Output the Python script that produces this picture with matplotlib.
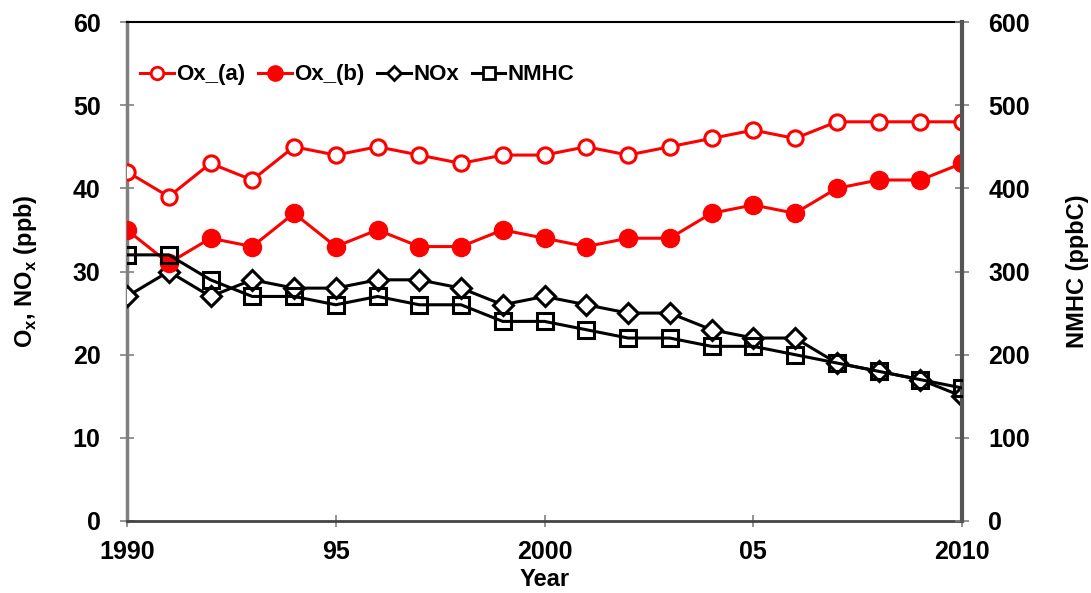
import numpy as np
import matplotlib.pyplot as plt
from matplotlib.lines import Line2D

plt.rcParams['font.family'] = ['Liberation Sans', 'DejaVu Sans']
plt.rcParams['font.weight'] = 'bold'
plt.rcParams['mathtext.fontset'] = 'custom'
plt.rcParams['mathtext.bf'] = 'Liberation Sans:bold'

years = np.arange(1990, 2011)
ox_a = [42, 39, 43, 41, 45, 44, 45, 44, 43, 44, 44, 45, 44, 45, 46, 47, 46, 48, 48, 48, 48]
ox_b = [35, 31, 34, 33, 37, 33, 35, 33, 33, 35, 34, 33, 34, 34, 37, 38, 37, 40, 41, 41, 43]
nox = [27, 30, 27, 29, 28, 28, 29, 29, 28, 26, 27, 26, 25, 25, 23, 22, 22, 19, 18, 17, 15]
nmhc = [320, 320, 290, 270, 270, 260, 270, 260, 260, 240, 240, 230, 220, 220, 210, 210, 200, 190, 180, 170, 160]

xticks = [1990, 1995, 2000, 2005, 2010]
xlabels = ['1990', '95', '2000', '05', '2010']

fig = plt.figure(figsize=(10.91, 5.93), dpi=100)
ax = fig.add_axes([127 / 1091, 1 - 521 / 593, (962 - 127) / 1091, (521 - 22) / 593])
ax2 = ax.twinx()

lw = 2.2
ax.plot(years, ox_a, color='red', lw=lw, marker='o', ms=11, mfc='white', mec='red', mew=2.2, zorder=5)
ax.plot(years, ox_b, color='red', lw=lw, marker='o', ms=13, mfc='red', mec='red', zorder=5)
ax.plot(years, nox, color='black', lw=lw, marker='D', ms=10.5, mfc='white', mec='black', mew=2.2, zorder=4)
ax2.plot(years, nmhc, color='black', lw=lw, marker='s', ms=12, mfc='none', mec='black', mew=2.2, zorder=4)

ax.set_xlim(1990, 2010)
ax.set_ylim(0, 60)
ax2.set_ylim(0, 600)
ax.set_xticks(xticks)
ax.set_xticklabels(xlabels)
ax.set_yticks(range(0, 61, 10))
ax2.set_yticks(range(0, 601, 100))

for a in (ax, ax2):
    a.tick_params(direction='inout', length=10, width=1.2, color='gray', labelsize=18, pad=14)
ax.tick_params(axis='x', length=9, pad=9)

ax.spines['left'].set_color('gray')
ax.spines['left'].set_linewidth(2.5)
ax.spines['bottom'].set_color('#444444')
ax.spines['bottom'].set_linewidth(2.0)
ax.spines['top'].set_color('black')
ax.spines['top'].set_linewidth(1.5)
ax2.spines['right'].set_color('#555555')
ax2.spines['right'].set_linewidth(3.0)
ax2.spines['left'].set_visible(False)
ax2.spines['top'].set_visible(False)
ax2.spines['bottom'].set_visible(False)

ax.set_xlabel('Year', fontsize=17, fontweight='bold', labelpad=3)
ax.set_ylabel('O$_\\mathbf{x}$, NO$_\\mathbf{x}$ (ppb)', fontsize=17, fontweight='bold', labelpad=24)
ax2.set_ylabel('NMHC (ppbC)', fontsize=17, fontweight='bold', labelpad=26)

handles = [
    Line2D([], [], color='red', lw=lw, marker='o', ms=9, mfc='white', mec='red', mew=2),
    Line2D([], [], color='red', lw=lw, marker='o', ms=11, mfc='red', mec='red'),
    Line2D([], [], color='black', lw=lw, marker='D', ms=7, mfc='white', mec='black', mew=2),
    Line2D([], [], color='black', lw=lw, marker='s', ms=8, mfc='white', mec='black', mew=2),
]
ax.legend(handles, ['Ox_(a)', 'Ox_(b)', 'NOx', 'NMHC'], loc='upper left', ncol=4, frameon=False,
          fontsize=16, handlelength=1.5, handletextpad=0.1, columnspacing=0.6,
          bbox_to_anchor=(-0.008, 0.955))

fig.savefig('out.png', dpi=100)
